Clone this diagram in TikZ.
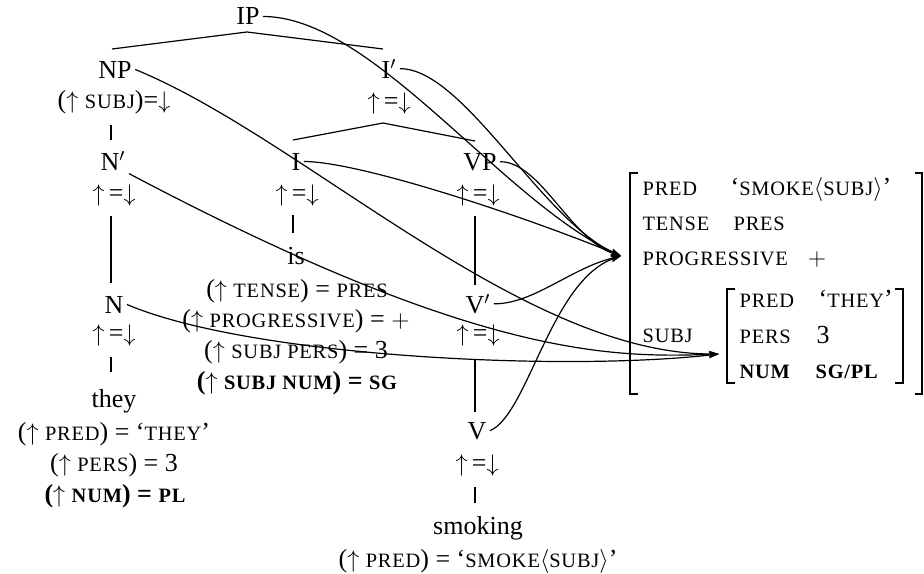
\documentclass[tikz,border=0pt]{standalone}
\usepackage{fontspec}
\setmainfont{Liberation Serif}
\usetikzlibrary{arrows.meta}
\newcommand{\smc}[1]{{\fontsize{10.2}{12}\selectfont\addfontfeature{LetterSpace=4}#1}}
\newcommand{\ua}{$\uparrow$}
\newcommand{\ud}{$\uparrow$\,=$\downarrow$}
\begin{document}
\begin{tikzpicture}[x=0.5pt,y=-0.5pt,
  font=\fontsize{13}{15}\selectfont, line width=0.6pt,
  lbl/.style={anchor=base, inner sep=1.5pt},
  avm/.style={anchor=base west, inner sep=0pt},
  arr/.style={-{Stealth[length=5pt,width=3.2pt,inset=1.2pt]}},
  brk/.style={line width=0.7pt}]
\useasboundingbox (0,0) rectangle (924,573);
% tree nodes
\node[lbl] (IP) at (248,25) {IP};
\node[lbl] (NP) at (115,78) {NP};
\node[lbl] (NPa) at (114,108) {(\ua\ \smc{SUBJ})=$\downarrow$};
\node[lbl] (Ib) at (389,78) {I$'$};
\node[lbl] (Iba) at (389,109) {\ud};
\node[lbl] (Nb) at (113,170) {N$'$};
\node[lbl] (Nba) at (114,201) {\ud};
\node[lbl] (I) at (296,170) {I};
\node[lbl] (Ia) at (297,201) {\ud};
\node[lbl] (VP) at (480,170) {VP};
\node[lbl] (VPa) at (478,201) {\ud};
\node[lbl] (is) at (296,264) {is};
\node[lbl] (isa) at (297,297) {(\ua\ \smc{TENSE}) = \smc{PRES}};
\node[lbl] (isb) at (296,327) {(\ua\ \smc{PROGRESSIVE}) = $+$};
\node[lbl] (isc) at (296,358) {(\ua\ \smc{SUBJ PERS}) = 3};
\node[lbl] (isd) at (297,389) {\bfseries(\ua\ \smc{SUBJ NUM}) = \smc{SG}};
\node[lbl] (N) at (114,313) {N};
\node[lbl] (Na) at (114,341) {\ud};
\node[lbl] (Vb) at (478,313) {V$'$};
\node[lbl] (Vba) at (478,341) {\ud};
\node[lbl] (they) at (114,407) {they};
\node[lbl] (theya) at (114,440) {(\ua\ \smc{PRED}) = `\smc{THEY}'};
\node[lbl] (theyb) at (114,471) {(\ua\ \smc{PERS}) = 3};
\node[lbl] (theyc) at (115,502) {\bfseries(\ua\ \smc{NUM}) = \smc{PL}};
\node[lbl] (V) at (477,439) {V};
\node[lbl] (Va) at (477,471) {\ud};
\node[lbl] (smoking) at (478,534) {smoking};
\node[lbl] (smokinga) at (478,567) {(\ua\ \smc{PRED}) = `\smc{SMOKE}$\langle$\smc{SUBJ}$\rangle$'};
% tree lines
\coordinate (a1) at (112,49); \coordinate (a2) at (247,32); \coordinate (a3) at (383,49);
\coordinate (b1) at (293,140); \coordinate (b2) at (383,123); \coordinate (b3) at (475,141);
\draw (a1) -- (a2) -- (a3);
\draw (b1) -- (b2) -- (b3);
\coordinate (c1) at (111,125); \coordinate (c2) at (111,140);
\coordinate (c3) at (111,216); \coordinate (c4) at (111,283);
\coordinate (c5) at (111,357); \coordinate (c6) at (111,372);
\coordinate (d1) at (293,215); \coordinate (d2) at (293,233);
\coordinate (e1) at (475,216); \coordinate (e2) at (475,285);
\coordinate (e3) at (475,360); \coordinate (e4) at (475,412);
\coordinate (e5) at (475,487); \coordinate (e6) at (475,503);
\draw (c1) -- (c2); \draw (c3) -- (c4); \draw (c5) -- (c6);
\draw (d1) -- (d2);
\draw (e1) -- (e2); \draw (e3) -- (e4); \draw (e5) -- (e6);
% AVM
\node[avm] (f1a) at (642,195) {\smc{PRED}};
\node[avm] (f1b) at (730,195) {`\smc{SMOKE}$\langle$\smc{SUBJ}$\rangle$'};
\node[avm] (f2a) at (642,230) {\smc{TENSE}};
\node[avm] (f2b) at (733,230) {\smc{PRES}};
\node[avm] (f3a) at (642,265) {\smc{PROGRESSIVE}};
\node[anchor=base, inner sep=0pt] (f3b) at (817,265) {$+$};
\node[avm] (f4a) at (642,342) {\smc{SUBJ}};
\node[avm] (g1a) at (739,307) {\smc{PRED}};
\node[avm] (g1b) at (818,307) {`\smc{THEY}'};
\node[avm] (g2a) at (739,343) {\smc{PERS}};
\node[avm] (g2b) at (816,343) {3};
\node[avm] (g3a) at (739,378) {\bfseries\smc{NUM}};
\node[avm] (g3b) at (815,378) {\bfseries\smc{SG/PL}};
\draw[brk] (638,173) -- (630,173) -- (630,394) -- (638,394);
\draw[brk] (915,173) -- (922,173) -- (922,394) -- (915,394);
\draw[brk] (735,289) -- (727,289) -- (727,383) -- (735,383);
\draw[brk] (895,289) -- (903,289) -- (903,383) -- (895,383);
\coordinate (F1) at (621,256);
\coordinate (F2) at (719,354);
% connectors
\draw[arr] (IP.east) .. controls +(109,0) and +(-120,-56) .. (F1);
\draw[arr] (Ib.east) .. controls +(64,0) and +(-80,-36) .. (F1);
\draw[arr] (VP.east) .. controls +(40,0) and +(-50,-16) .. (F1);
\draw[arr] (I.east) .. controls +(55,0) and +(-100,-41) .. (F1);
\draw[arr] (Vb.east) .. controls +(40,0) and +(-50,12) .. (F1);
\draw[arr] (V.east) .. controls +(38,-16) and +(-70,24) .. (F1);
\draw[arr] (NP.east) .. controls +(167,68) and +(-198,0) .. (F2);
\draw[arr] (Nb.south east) .. controls +(348,184) and +(-108,4) .. (F2);
\draw[arr] (N.east) .. controls +(122,52) and +(-158,18) .. (F2);
\end{tikzpicture}
\end{document}
